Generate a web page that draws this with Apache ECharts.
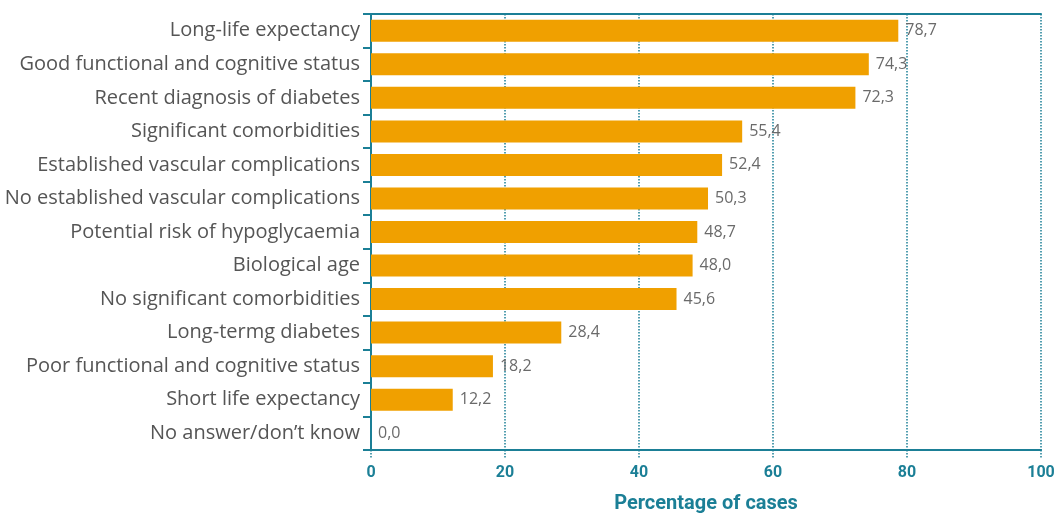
<!DOCTYPE html>
<html>
<head>
<meta charset="utf-8">
<script src="https://cdn.jsdelivr.net/npm/echarts@6/dist/echarts.min.js"></script>
<style>
  html, body { margin: 0; padding: 0; background: #fff; }
  #chart { width: 1054px; height: 513px; }
</style>
</head>
<body>
<div id="chart"></div>
<script>
// Criteria considered when individualising targets (top to bottom)
const categories = [
  'Long-life expectancy',
  'Good functional and cognitive status',
  'Recent diagnosis of diabetes',
  'Significant comorbidities',
  'Established vascular complications',
  'No established vascular complications',
  'Potential risk of hypoglycaemia',
  'Biological age',
  'No significant comorbidities',
  'Long-termg diabetes',
  'Poor functional and cognitive status',
  'Short life expectancy',
  'No answer/don\u2019t know'
];
const values = [78.7, 74.3, 72.3, 55.4, 52.4, 50.3, 48.7, 48.0, 45.6, 28.4, 18.2, 12.2, 0.0];
const xTicks = [0, 20, 40, 60, 80, 100];

const teal = '#1b7f96';
const chart = echarts.init(document.getElementById('chart'));
chart.setOption({
  animation: false,
  grid: { left: 371, right: 13, top: 14, bottom: 63, containLabel: false, outerBoundsMode: 'none' },
  xAxis: [{
    type: 'value',
    min: xTicks[0],
    max: xTicks[xTicks.length - 1],
    interval: 20,
    name: 'Percentage of cases',
    nameLocation: 'middle',
    nameGap: 44,
    nameTextStyle: { color: teal, fontSize: 20, fontWeight: 'bold', fontFamily: 'Roboto' },
    axisLine: { show: true, lineStyle: { color: teal, width: 2 } },
    axisTick: { show: true, length: 8, lineStyle: { color: teal, type: 'dotted', width: 1.5 } },
    axisLabel: { color: teal, fontSize: 16, fontWeight: 'bold', fontFamily: 'Roboto', margin: 15 },
    splitLine: { show: true, lineStyle: { color: teal, type: 'dotted', width: 1.5 } }
  }, {
    type: 'value',
    position: 'top',
    min: 0, max: 100,
    axisLine: { show: true, lineStyle: { color: teal, width: 2 } },
    axisTick: { show: false },
    axisLabel: { show: false },
    splitLine: { show: false }
  }],
  yAxis: {
    type: 'category',
    data: categories,
    inverse: true,
    axisLine: { show: true, lineStyle: { color: teal, width: 2 } },
    axisTick: { show: true, length: 8, lineStyle: { color: teal, width: 2 } },
    axisLabel: { color: '#555', fontSize: 20, fontFamily: 'Open Sans', margin: 11 }
  },
  series: [{
    type: 'bar',
    data: values,
    barWidth: 22,
    itemStyle: { color: '#f0a000' },
    label: {
      show: true,
      position: 'right',
      distance: 7,
      color: '#6a6a6a',
      fontSize: 16,
      fontFamily: 'Open Sans',
      formatter: p => p.value.toFixed(1).replace('.', ',')
    }
  }]
});
</script>
</body>
</html>
